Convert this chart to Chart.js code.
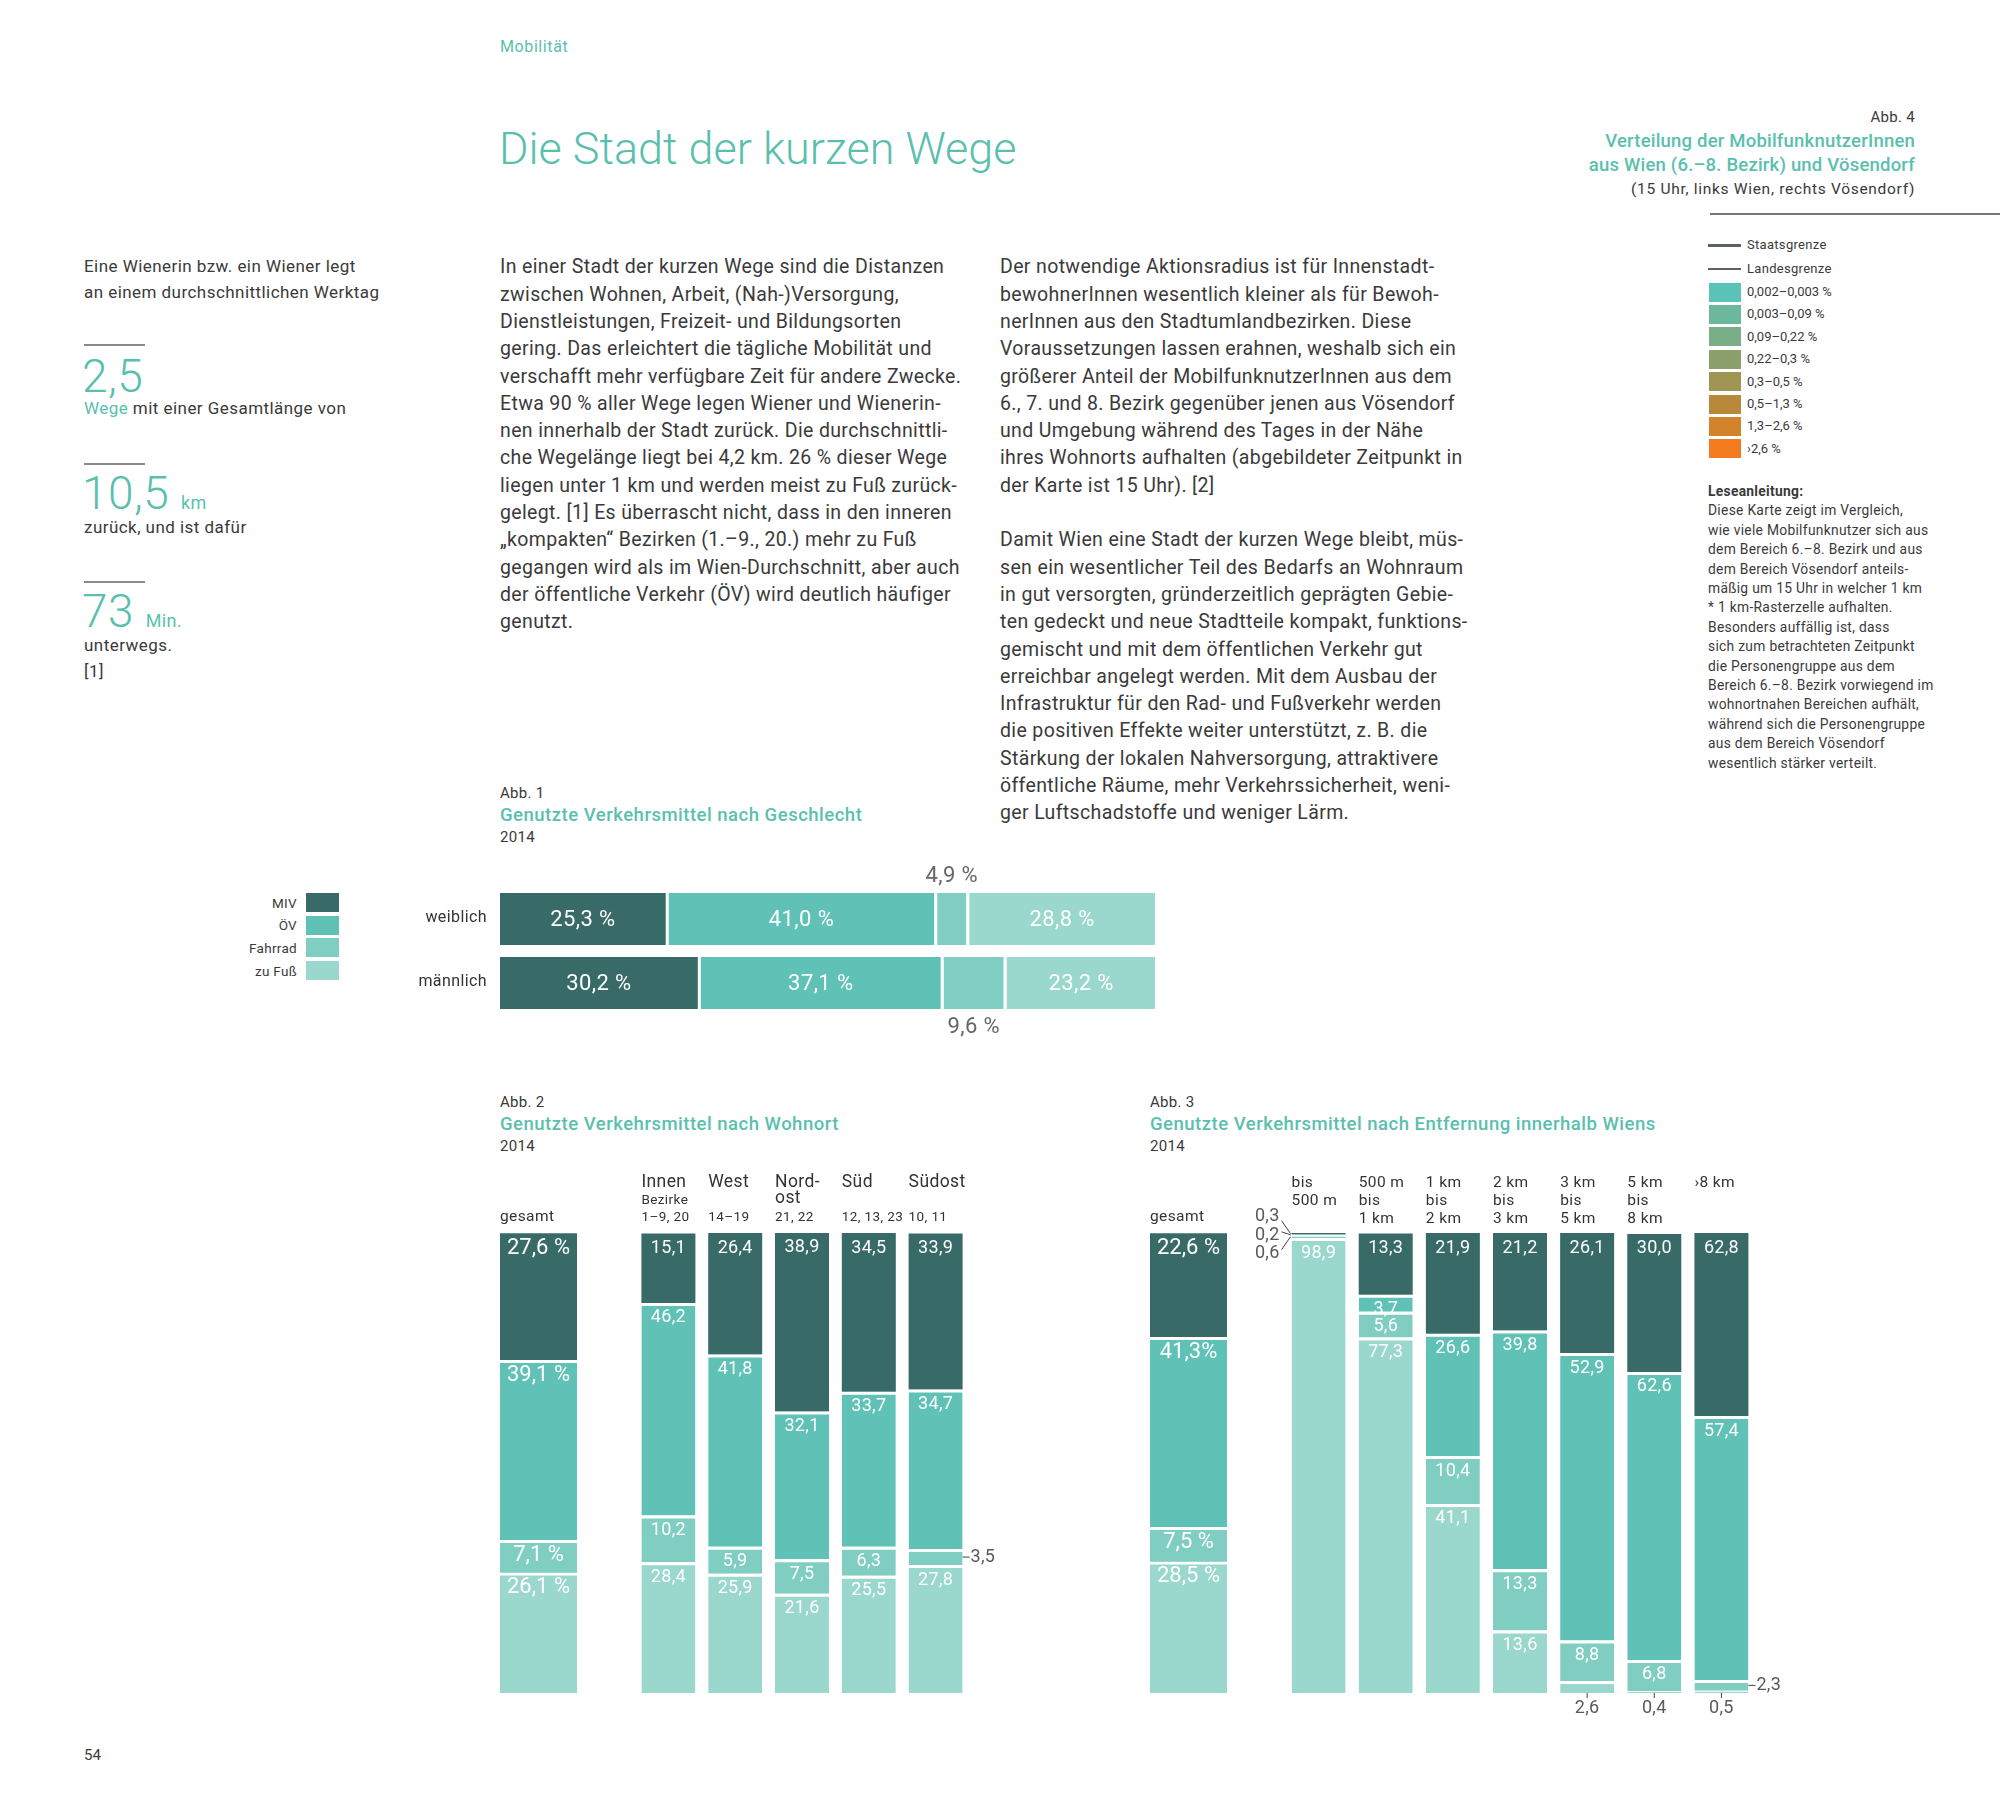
<!DOCTYPE html>
<html>
<head>
<meta charset="utf-8">
<script src="https://cdn.jsdelivr.net/npm/chart.js@4/dist/chart.umd.min.js"></script>
<style>
  body { margin: 0; width: 2000px; height: 1806px; position: relative; overflow: hidden;
         background: #fff; font-family: Roboto, sans-serif; color: #3a3a3a; }
  .t { position: absolute; white-space: nowrap; }
  .teal { color: #5bbfae; }
  .rule { position: absolute; left: 84px; width: 61px; height: 1.5px; background: #8a8a8a; }
  .big { font-size: 46px; font-weight: 300; line-height: 50px; color: #5bbfae; letter-spacing: 0.5px; }
  .big span { font-size: 18px; font-weight: 400; letter-spacing: 0.3px; }
  .side { font-size: 17px; line-height: 25.5px; letter-spacing: 0.45px; }
  .body { font-size: 19.5px; line-height: 27.3px; top: 253.4px; letter-spacing: 0.36px; }
  .abb { font-size: 15px; line-height: 22px; letter-spacing: 0.3px; }
  .abb b { display: block; font-size: 18.5px; font-weight: 500; color: #5bbfae; letter-spacing: 0.5px; }
  canvas { position: absolute; }
  .sw { position: absolute; width: 32px; height: 19px; }
</style>
</head>
<body>

<div class="t teal" style="left:500px;top:37px;font-size:16px;line-height:20px;letter-spacing:0.6px">Mobilität</div>
<div class="t teal" style="left:499px;top:122px;font-size:45px;line-height:54px;font-weight:300">Die Stadt der kurzen Wege</div>

<!-- left column -->
<div class="t side" style="left:84px;top:254px">Eine Wienerin bzw. ein Wiener legt<br>an einem durchschnittlichen Werktag</div>
<div class="rule" style="top:344px"></div>
<div class="t big" style="left:82px;top:351px">2,5</div>
<div class="t side" style="left:84px;top:396px"><span class="teal">Wege</span> mit einer Gesamtlänge von</div>
<div class="rule" style="top:463px"></div>
<div class="t big" style="left:82px;top:468px">10,5 <span>km</span></div>
<div class="t side" style="left:84px;top:515px">zurück, und ist dafür</div>
<div class="rule" style="top:581px"></div>
<div class="t big" style="left:82px;top:586px">73 <span>Min.</span></div>
<div class="t side" style="left:84px;top:633px">unterwegs.<br>[1]</div>

<!-- body text -->
<div class="t body" style="left:500px">In einer Stadt der kurzen Wege sind die Distanzen<br>zwischen Wohnen, Arbeit, (Nah-)Versorgung,<br>Dienstleistungen, Freizeit- und Bildungsorten<br>gering. Das erleichtert die tägliche Mobilität und<br>verschafft mehr verfügbare Zeit für andere Zwecke.<br>Etwa 90 % aller Wege legen Wiener und Wienerin-<br>nen innerhalb der Stadt zurück. Die durchschnittli-<br>che Wegelänge liegt bei 4,2 km. 26 % dieser Wege<br>liegen unter 1 km und werden meist zu Fuß zurück-<br>gelegt. [1] Es überrascht nicht, dass in den inneren<br>„kompakten“ Bezirken (1.–9., 20.) mehr zu Fuß<br>gegangen wird als im Wien-Durchschnitt, aber auch<br>der öffentliche Verkehr (ÖV) wird deutlich häufiger<br>genutzt.</div>
<div class="t body" style="left:1000px">Der notwendige Aktionsradius ist für Innenstadt-<br>bewohnerInnen wesentlich kleiner als für Bewoh-<br>nerInnen aus den Stadtumlandbezirken. Diese<br>Voraussetzungen lassen erahnen, weshalb sich ein<br>größerer Anteil der MobilfunknutzerInnen aus dem<br>6., 7. und 8. Bezirk gegenüber jenen aus Vösendorf<br>und Umgebung während des Tages in der Nähe<br>ihres Wohnorts aufhalten (abgebildeter Zeitpunkt in<br>der Karte ist 15 Uhr). [2]<br><br>Damit Wien eine Stadt der kurzen Wege bleibt, müs-<br>sen ein wesentlicher Teil des Bedarfs an Wohnraum<br>in gut versorgten, gründerzeitlich geprägten Gebie-<br>ten gedeckt und neue Stadtteile kompakt, funktions-<br>gemischt und mit dem öffentlichen Verkehr gut<br>erreichbar angelegt werden. Mit dem Ausbau der<br>Infrastruktur für den Rad- und Fußverkehr werden<br>die positiven Effekte weiter unterstützt, z. B. die<br>Stärkung der lokalen Nahversorgung, attraktivere<br>öffentliche Räume, mehr Verkehrssicherheit, weni-<br>ger Luftschadstoffe und weniger Lärm.</div>

<!-- Abb. 4 (map legend only) -->
<div class="t" style="right:85px;top:106px;font-size:15px;line-height:22px;text-align:right;letter-spacing:0.3px">Abb. 4</div>
<div class="t teal" style="right:85px;top:129px;font-size:18.5px;line-height:24px;font-weight:500;text-align:right;letter-spacing:0.2px">Verteilung der MobilfunknutzerInnen<br>aus Wien (6.–8. Bezirk) und Vösendorf</div>
<div class="t" style="right:85px;top:178px;font-size:15.5px;line-height:22px;text-align:right;letter-spacing:0.7px">(15 Uhr, links Wien, rechts Vösendorf)</div>
<div style="position:absolute;left:1710px;top:213px;width:290px;height:2px;background:#777"></div>
<div id="mapLegend"></div>
<div class="t" style="left:1708px;top:482px;font-size:13.8px;line-height:19.4px;letter-spacing:0.3px"><b>Leseanleitung:</b><br>Diese Karte zeigt im Vergleich,<br>wie viele Mobilfunknutzer sich aus<br>dem Bereich 6.–8. Bezirk und aus<br>dem Bereich Vösendorf anteils-<br>mäßig um 15 Uhr in welcher 1 km<br>* 1 km-Rasterzelle aufhalten.<br>Besonders auffällig ist, dass<br>sich zum betrachteten Zeitpunkt<br>die Personengruppe aus dem<br>Bereich 6.–8. Bezirk vorwiegend im<br>wohnortnahen Bereichen aufhält,<br>während sich die Personengruppe<br>aus dem Bereich Vösendorf<br>wesentlich stärker verteilt.</div>

<!-- Abb. 1 -->
<div class="t abb" style="left:500px;top:782px">Abb. 1<b>Genutzte Verkehrsmittel nach Geschlecht</b>2014</div>
<div id="modeLegend"></div>
<canvas id="abb1" width="960" height="185" style="left:200px;top:860px"></canvas>

<!-- Abb. 2 -->
<div class="t abb" style="left:500px;top:1091px">Abb. 2<b>Genutzte Verkehrsmittel nach Wohnort</b>2014</div>
<canvas id="abb2a" width="77" height="560" style="left:500px;top:1160px"></canvas>
<canvas id="abb2b" width="384" height="560" style="left:635px;top:1160px"></canvas>

<!-- Abb. 3 -->
<div class="t abb" style="left:1150px;top:1091px">Abb. 3<b>Genutzte Verkehrsmittel nach Entfernung innerhalb Wiens</b>2014</div>
<canvas id="abb3a" width="77" height="560" style="left:1150px;top:1160px"></canvas>
<canvas id="abb3b" width="565" height="560" style="left:1235px;top:1160px"></canvas>

<div class="t" style="left:84px;top:1744px;font-size:15px;line-height:22px">54</div>

<script>
const modeNames = ['MIV', 'ÖV', 'Fahrrad', 'zu Fuß'];
const modeColors = ['#386b67', '#60c2b6', '#80cdc1', '#9ad7cc'];

// Abb. 1 – nach Geschlecht
const genders = ['weiblich', 'männlich'];
const genderMIV = [25.3, 30.2];
const genderOEV = [41.0, 37.1];
const genderRad = [4.9, 9.6];
const genderFuss = [28.8, 23.2];

// Abb. 2 – nach Wohnort (MIV, ÖV, Fahrrad, zu Fuß)
const wohnortGesamt = [27.6, 39.1, 7.1, 26.1];
const areaNames = [['Innen'], ['West'], ['Nord-', 'ost'], ['Süd'], ['Südost']];
const areaNotes = [['Bezirke', '1–9, 20'], ['14–19'], ['21, 22'], ['12, 13, 23'], ['10, 11']];
const areaMIV = [15.1, 26.4, 38.9, 34.5, 33.9];
const areaOEV = [46.2, 41.8, 32.1, 33.7, 34.7];
const areaRad = [10.2, 5.9, 7.5, 6.3, 3.5];
const areaFuss = [28.4, 25.9, 21.6, 25.5, 27.8];

// Abb. 3 – nach Entfernung (bar heights as drawn)
const distGesamt = [22.6, 41.3, 7.5, 28.5];
const distNames = [['bis', '500 m'], ['500 m', 'bis', '1 km'], ['1 km', 'bis', '2 km'], ['2 km', 'bis', '3 km'],
                   ['3 km', 'bis', '5 km'], ['5 km', 'bis', '8 km'], ['›8 km']];
const distMIV = [0.3, 13.3, 21.9, 21.2, 26.1, 30.0, 39.8];
const distOEV = [0.2, 3.7, 26.6, 51.9, 62.5, 62.6, 57.4];
const distRad = [0.6, 5.6, 10.4, 13.3, 8.8, 6.8, 2.3];
const distFuss = [98.9, 77.3, 41.1, 13.6, 2.6, 0.4, 0.5];
// printed numbers, which differ from the bar heights in three places
const distMIVText = ['0,3', '13,3', '21,9', '21,2', '26,1', '30,0', '62,8'];
const distOEVText = ['0,2', '3,7', '26,6', '39,8', '52,9', '62,6', '57,4'];
const distGesamtText = ['22,6 %', '41,3%', '7,5 %', '28,5 %'];

// Abb. 4 legend
const mapClasses = ['0,002–0,003 %', '0,003–0,09 %', '0,09–0,22 %', '0,22–0,3 %', '0,3–0,5 %', '0,5–1,3 %', '1,3–2,6 %', '›2,6 %'];
const mapColors = ['#5bc4b9', '#6bb89c', '#7aae86', '#8b9f6b', '#a09552', '#b8893a', '#d3832a', '#f47b20'];

const fmt = v => v.toFixed(1).replace('.', ',');
const FONT = 'Roboto, sans-serif';

// legends built as html
let h = '';
h += '<div style="position:absolute;left:1708px;top:244px;width:33px;height:3px;background:#5a6266"></div>';
h += '<div class="t" style="left:1747px;top:236px;font-size:13px;line-height:18px;letter-spacing:0.3px">Staatsgrenze</div>';
h += '<div style="position:absolute;left:1708px;top:268px;width:33px;height:1.5px;background:#5a6266"></div>';
h += '<div class="t" style="left:1747px;top:260px;font-size:13px;line-height:18px;letter-spacing:0.3px">Landesgrenze</div>';
mapClasses.forEach((c, i) => {
  const y = 292 + i * 22.4;
  h += `<div class="sw" style="left:1709px;top:${y - 9.5}px;background:${mapColors[i]}"></div>`;
  h += `<div class="t" style="left:1747px;top:${y - 9}px;font-size:13px;line-height:18px">${c}</div>`;
});
document.getElementById('mapLegend').innerHTML = h;

h = '';
modeNames.forEach((m, i) => {
  const y = 902.5 + i * 22.7;
  h += `<div class="t" style="right:${2000 - 297}px;top:${y - 9}px;font-size:13.5px;line-height:18px;text-align:right;letter-spacing:0.3px">${m}</div>`;
  h += `<div class="sw" style="left:306px;top:${y - 9.5}px;width:33px;background:${modeColors[i]}"></div>`;
});
document.getElementById('modeLegend').innerHTML = h;

// draws segment values, outside notes and column heads
function labelPlugin(cfg) {
  return {
    id: 'segLabels',
    afterDatasetsDraw(chart) {
      const ctx = chart.ctx, area = chart.chartArea;
      ctx.save();
      ctx.textBaseline = 'middle';
      ctx.letterSpacing = cfg.spacing || '0px';
      chart.data.datasets.forEach((ds, di) => {
        chart.getDatasetMeta(di).data.forEach((bar, i) => {
          const text = ds.text ? ds.text[i] : fmt(ds.data[i]) + (cfg.suffix || '');
          const spot = (cfg.outside || []).find(s => s[0] === ds.label && s[1] === i);
          ctx.fillStyle = '#fff';
          ctx.font = cfg.font;
          ctx.textAlign = 'center';
          if (cfg.horizontal) {
            const x0 = Math.min(bar.base, bar.x), x1 = Math.max(bar.base, bar.x);
            const cx = (x0 + x1 + (di ? 3 : 0)) / 2;
            if (!spot) { ctx.fillText(text, cx, bar.y + 1); return; }
            ctx.fillStyle = '#666';
            const dy = spot[2] === 'above' ? -bar.height / 2 - 17 : bar.height / 2 + 18;
            ctx.fillText(text, cx, bar.y + dy);
            return;
          }
          const top = bar.y, bot = bar.base;
          const left = bar.x - bar.width / 2, right = bar.x + bar.width / 2;
          if (!spot) { ctx.fillText(text, bar.x, top + cfg.dy); return; }
          ctx.fillStyle = '#5a5a5a';
          ctx.strokeStyle = '#444';
          ctx.lineWidth = 1;
          ctx.font = cfg.noteFont;
          const mid = (top + bot) / 2;
          ctx.beginPath();
          if (spot[2] === 'right') {
            ctx.moveTo(right, mid); ctx.lineTo(right + 7, mid); ctx.stroke();
            ctx.textAlign = 'left';
            ctx.fillText(text, right + 8, mid);
          } else if (spot[2] === 'below') {
            ctx.moveTo(bar.x, bot); ctx.lineTo(bar.x, bot + 5); ctx.stroke();
            ctx.fillText(text, bar.x, bot + 15);
          } else {
            const ty = mid + spot[3];
            ctx.textAlign = 'right';
            ctx.fillText(text, left - 12, ty);
            ctx.moveTo(left - 10, ty + (spot[3] < 0 ? 4 : spot[3] > 0 ? -4 : 0));
            ctx.lineTo(left - 1, mid); ctx.stroke();
          }
        });
      });
      // column heads and row names
      ctx.fillStyle = '#333';
      ctx.letterSpacing = '0.4px';
      const meta = chart.getDatasetMeta(0);
      chart.data.labels.forEach((lab, i) => {
        const bar = meta.data[i];
        if (cfg.horizontal) {
          ctx.font = '16px ' + FONT;
          ctx.textAlign = 'right';
          ctx.fillText(lab, area.left - 13, bar.y - 1);
          return;
        }
        const x = bar.x - bar.width / 2;
        ctx.textAlign = 'left';
        const lines = Array.isArray(lab) ? lab : [lab];
        ctx.font = cfg.headFont;
        if (cfg.headBottom) {
          lines.forEach((l, k) => ctx.fillText(l, x, area.top - 16 - (lines.length - 1 - k) * 17));
        } else {
          lines.forEach((l, k) => ctx.fillText(l, x, area.top - 50 + k * cfg.headStep));
        }
        if (cfg.notes) {
          ctx.font = cfg.noteHeadFont;
          const n = cfg.notes[i];
          n.forEach((l, k) => ctx.fillText(l, x, area.top - 15 - (n.length - 1 - k) * 17));
        }
      });
      ctx.restore();
    }
  };
}

// cols = [MIV, ÖV, Fahrrad, zu Fuß]
function modeDatasets(cols, texts, horizontal) {
  const order = horizontal ? [0, 1, 2, 3] : [3, 2, 1, 0];
  return order.map(k => ({
    label: modeNames[k],
    data: cols[k],
    text: texts ? texts[k] : null,
    backgroundColor: modeColors[k],
    borderColor: '#fff',
    borderWidth: k === 0 ? 0 : (horizontal ? { left: 3, top: 0, right: 0, bottom: 0 } : { top: 3, left: 0, right: 0, bottom: 0 }),
    borderSkipped: false
  }));
}

function stackChart(id, labels, cols, texts, cfg) {
  const horizontal = !!cfg.horizontal;
  return new Chart(document.getElementById(id), {
    type: 'bar',
    data: { labels: labels, datasets: modeDatasets(cols, texts, horizontal) },
    options: {
      indexAxis: horizontal ? 'y' : 'x',
      responsive: false,
      animation: false,
      layout: { padding: cfg.pad },
      datasets: { bar: { barPercentage: cfg.barPct, categoryPercentage: 1 } },
      plugins: { legend: { display: false }, tooltip: { enabled: false } },
      scales: horizontal
        ? { x: { display: false, stacked: true, min: 0, max: 100 }, y: { display: false, stacked: true } }
        : { x: { display: false, stacked: true }, y: { display: false, stacked: true, min: 0, max: 100 } }
    },
    plugins: [labelPlugin(cfg)]
  });
}

const single = a => a.map(v => [v]);

stackChart('abb1', genders, [genderMIV, genderOEV, genderRad, genderFuss], null, {
  horizontal: true, barPct: 52 / 64, font: '22px ' + FONT, suffix: ' %', spacing: '0.4px',
  pad: { left: 300, right: 5, top: 27, bottom: 30 },
  outside: [['Fahrrad', 0, 'above'], ['Fahrrad', 1, 'below']]
});

stackChart('abb2a', [['gesamt']], single(wohnortGesamt), null, {
  barPct: 1, font: '22px ' + FONT, suffix: ' %', dy: 15, headBottom: true, headFont: '15.5px ' + FONT,
  pad: { left: 0, right: 0, top: 73, bottom: 27 }
});

stackChart('abb2b', areaNames, [areaMIV, areaOEV, areaRad, areaFuss], null, {
  barPct: 54 / 66.8, font: '18px ' + FONT, dy: 15, noteFont: '18px ' + FONT, spacing: '0.3px',
  headFont: '17.5px ' + FONT, headStep: 16, notes: areaNotes, noteHeadFont: '13.5px ' + FONT,
  pad: { left: 0, right: 50, top: 73, bottom: 27 },
  outside: [['Fahrrad', 4, 'right']]
});

stackChart('abb3a', [['gesamt']], single(distGesamt), single(distGesamtText), {
  barPct: 1, font: '22px ' + FONT, dy: 15, headBottom: true, headFont: '15.5px ' + FONT,
  pad: { left: 0, right: 0, top: 73, bottom: 27 }
});

stackChart('abb3b', distNames, [distMIV, distOEV, distRad, distFuss],
  [distMIVText, distOEVText, distRad.map(fmt), distFuss.map(fmt)], {
  barPct: 54 / 67.14, font: '18px ' + FONT, dy: 15, noteFont: '18px ' + FONT, spacing: '0.3px',
  headFont: '15.5px ' + FONT, headStep: 18,
  pad: { left: 50, right: 45, top: 73, bottom: 27 },
  outside: [['MIV', 0, 'left', -17], ['ÖV', 0, 'left', 1], ['Fahrrad', 0, 'left', 17],
            ['Fahrrad', 6, 'right'], ['zu Fuß', 4, 'below'], ['zu Fuß', 5, 'below'], ['zu Fuß', 6, 'below']]
});
</script>
</body>
</html>
